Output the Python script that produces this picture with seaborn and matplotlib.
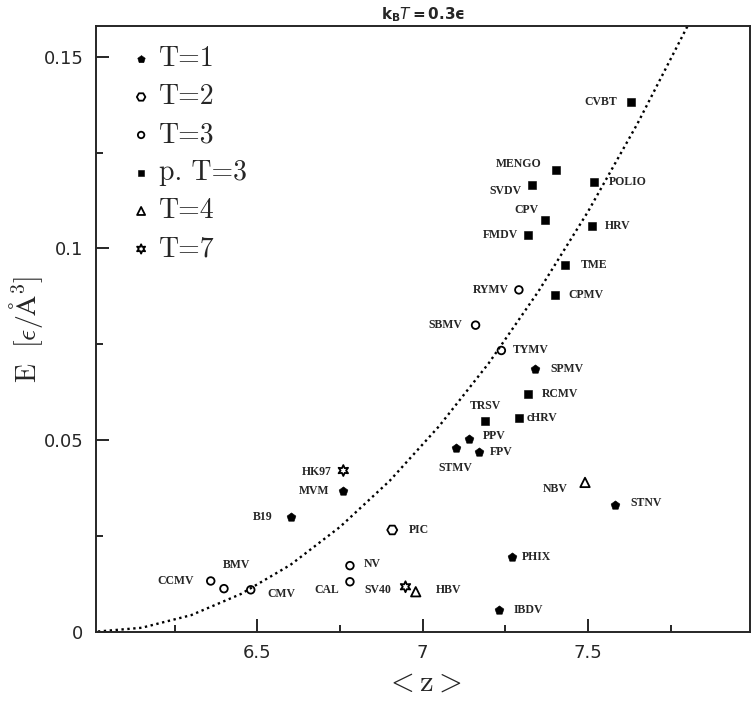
import matplotlib
matplotlib.use("Agg")
import matplotlib.pyplot as plt
import pandas as pd
import seaborn as sns
from matplotlib.ticker import MultipleLocator, FixedLocator

# capsid data: mean coordination <z> against energy, grouped by T number
names = [
    "CVBT", "MENGO", "SVDV", "POLIO", "CPV", "HRV", "FMDV", "TME", "CPMV",
    "RCMV", "TRSV", "cHRV",
    "RYMV", "SBMV", "TYMV", "NV", "CAL", "CCMV", "BMV", "CMV",
    "PIC",
    "SPMV", "PPV", "STMV", "FPV", "MVM", "B19", "STNV", "PHIX", "IBDV",
    "NBV", "HBV",
    "HK97", "SV40",
]
z_mean = [
    7.629, 7.402, 7.330, 7.519, 7.371, 7.511, 7.320, 7.431, 7.401,
    7.320, 7.189, 7.291,
    7.291, 7.160, 7.238, 6.780, 6.780, 6.359, 6.399, 6.480,
    6.908,
    7.340, 7.141, 7.100, 7.171, 6.760, 6.601, 7.581, 7.271, 7.231,
    7.491, 6.979,
    6.760, 6.948,
]
energy = [
    0.1383, 0.1204, 0.1166, 0.1173, 0.1074, 0.1059, 0.1035, 0.0957, 0.0879,
    0.0621, 0.0549, 0.0558,
    0.0892, 0.0800, 0.0734, 0.0173, 0.0131, 0.0133, 0.0113, 0.0110,
    0.0266,
    0.0686, 0.0504, 0.0481, 0.0470, 0.0368, 0.0299, 0.0330, 0.0196, 0.0058,
    0.0390, 0.0105,
    0.0421, 0.0118,
]
t_class = (["p. T=3"] * 12 + ["T=3"] * 8 + ["T=2"] + ["T=1"] * 9
           + ["T=4"] * 2 + ["T=7"] * 2)

# dotted reference curve
curve_z = [6.00, 6.15, 6.30, 6.45, 6.60, 6.75, 6.90, 7.05, 7.20, 7.35,
           7.50, 7.65, 7.80, 7.85]
curve_e = [0.0, 0.0011, 0.0044, 0.0099, 0.0175, 0.0274, 0.0394, 0.0537,
           0.0701, 0.0888, 0.1096, 0.1326, 0.1578, 0.1666]

legend_order = ["T=1", "T=2", "T=3", "p. T=3", "T=4", "T=7"]

df = pd.DataFrame({"name": names, "z": z_mean, "E": energy, "T": t_class})

# marker, filled, size
styles = {
    "T=1": ("p", True, 44),
    "T=2": ("H", False, 52),
    "T=3": ("o", False, 30),
    "p. T=3": ("s", True, 26),
    "T=4": ("^", False, 46),
    "T=7": ((6, 1, 0), False, 62),
}

# label placement: (ha, dx, dy) in pixels from the marker
label_pos = {
    "CVBT": ("right", -14, 0), "MENGO": ("right", -14, 6),
    "SVDV": ("right", -10, -6), "POLIO": ("left", 15, 0),
    "CPV": ("right", -7, 10), "HRV": ("left", 13, 0),
    "FMDV": ("right", -10, 0), "TME": ("left", 16, 0),
    "CPMV": ("left", 13, 0), "RCMV": ("left", 13, 0),
    "TRSV": ("center", 0, 15), "cHRV": ("left", 8, 0),
    "RYMV": ("right", -10, 0), "SBMV": ("right", -13, 0),
    "TYMV": ("left", 11, 0), "NV": ("left", 14, 2),
    "CAL": ("right", -11, -8), "CCMV": ("right", -17, 0),
    "BMV": ("center", 13, 24), "CMV": ("left", 17, -4),
    "PIC": ("left", 17, 0), "SPMV": ("left", 15, 0),
    "PPV": ("left", 14, 3), "STMV": ("center", 0, -20),
    "FPV": ("left", 11, 0), "MVM": ("right", -14, 0),
    "B19": ("right", -18, 0), "STNV": ("left", 16, 2),
    "PHIX": ("left", 10, 0), "IBDV": ("left", 15, 0),
    "NBV": ("right", -17, -7), "HBV": ("left", 20, 2),
    "HK97": ("right", -12, -1), "SV40": ("right", -14, -3),
}

sns.set_style("ticks")
plt.rcParams["mathtext.fontset"] = "cm"

fig = plt.figure(figsize=(7.51, 7.01), dpi=100)
ax = fig.add_axes([96 / 751, 1 - 632 / 701, 654 / 751, 606 / 701])

sns.lineplot(x=curve_z, y=curve_e, ax=ax, color="black", linewidth=1.7,
             linestyle=(0, (1, 1.5)), estimator=None, sort=False)

for grp in legend_order:
    sub = df[df["T"] == grp]
    mk, filled, size = styles[grp]
    sns.scatterplot(
        data=sub, x="z", y="E", ax=ax, marker=mk, s=size,
        color="black", facecolor="black" if filled else "none",
        edgecolor="black", linewidth=0.4 if filled else 1.3,
        label=grp, zorder=3,
    )

for name, x, y in zip(names, z_mean, energy):
    ha, dx, dy = label_pos[name]
    ax.annotate(name, (x, y), xytext=(dx, dy), textcoords="offset pixels",
                ha=ha, va="center", fontsize=8.5, fontweight="bold",
                family="Liberation Serif")

ax.set_xlim(6.012, 7.99)
ax.set_ylim(0, 0.158)
ax.xaxis.set_major_locator(FixedLocator([6.5, 7.0, 7.5]))
ax.xaxis.set_minor_locator(MultipleLocator(0.25))
ax.yaxis.set_major_locator(FixedLocator([0, 0.05, 0.1, 0.15]))
ax.yaxis.set_minor_locator(MultipleLocator(0.025))
ax.set_xticklabels(["6.5", "7", "7.5"])
ax.set_yticklabels(["0", "0.05", "0.1", "0.15"])

ax.tick_params(which="major", direction="in", length=9.4, width=1.4,
               labelsize=13, pad=9, top=False, right=False)
ax.tick_params(which="minor", direction="in", length=4.7, width=1.4,
               top=False, right=False)
for sp in ax.spines.values():
    sp.set_linewidth(1.4)
    sp.set_visible(True)

ax.set_xlabel(r"$<\mathrm{z}>$", fontsize=22, labelpad=4)
ax.set_ylabel(r"$\mathrm{E}\ \ [\epsilon/\mathrm{\AA}^3]$", fontsize=20,
              va="center")
ax.yaxis.set_label_coords(-0.107, 0.5)
ax.set_title("$\\mathbf{k_B}T\\mathbf{=0.3}$\u03f5", fontsize=11, pad=5,
             fontweight="bold", math_fontfamily="dejavusans")

leg = ax.legend(loc="upper left", bbox_to_anchor=(0.035, 0.99),
                frameon=False, prop={"family": "cmr10", "size": 20},
                markerscale=0.85, handlelength=0.6, handletextpad=0.35,
                labelspacing=0.42, borderpad=0, scatterpoints=1)

fig.savefig("out.png", dpi=100)
